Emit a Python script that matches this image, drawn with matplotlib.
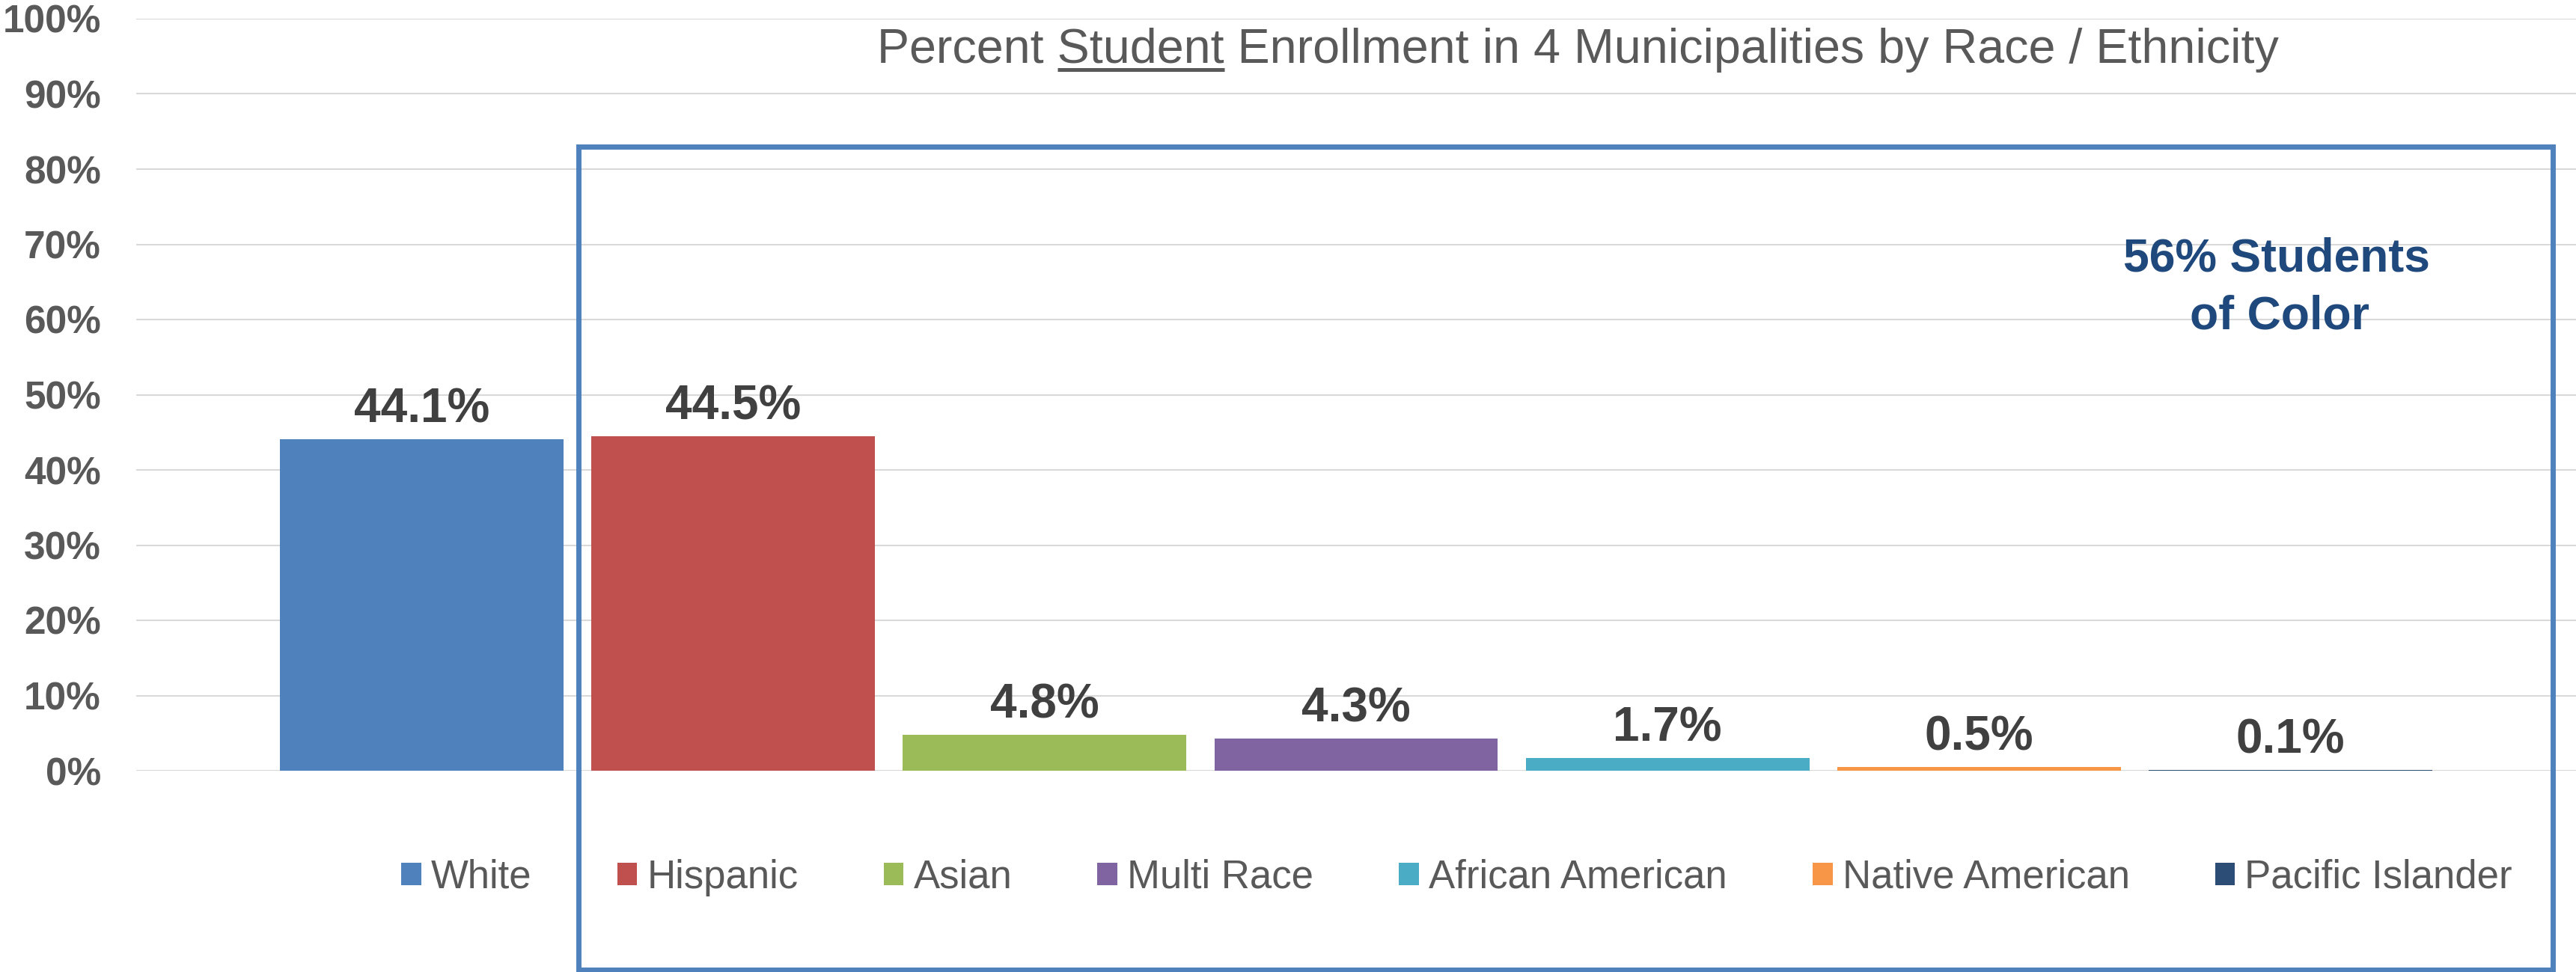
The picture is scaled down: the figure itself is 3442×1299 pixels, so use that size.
import matplotlib
matplotlib.use('Agg')
import matplotlib.pyplot as plt
import matplotlib.patches as mpatches
from matplotlib.lines import Line2D

plt.rcParams['font.family'] = ['Liberation Sans', 'DejaVu Sans']

# data
groups = ['White', 'Hispanic', 'Asian', 'Multi Race', 'African American',
          'Native American', 'Pacific Islander']
shares = [44.1, 44.5, 4.8, 4.3, 1.7, 0.5, 0.1]
colors = ['#4F81BD', '#C0504D', '#9BBB59', '#8064A2', '#4BACC6', '#F79646', '#2C4D75']
yticks = [0, 10, 20, 30, 40, 50, 60, 70, 80, 90, 100]
ytick_labels = ['0%', '10%', '20%', '30%', '40%', '50%', '60%', '70%', '80%', '90%', '100%']
title_pre = 'Percent '
title_ul = 'Student'
title_post = ' Enrollment in 4 Municipalities by Race / Ethnicity'
callout = '56% Students\nof Color'

W, H = 3442, 1299
GRAY = '#595959'
TITLE_FS = 46.5

fig = plt.figure(figsize=(W / 100, H / 100), dpi=100)
ax = fig.add_axes([182 / W, (H - 1030) / H, (W - 182) / W, (1030 - 25) / H])

for i, (g, v, c) in enumerate(zip(groups, shares, colors)):
    ax.bar(i, v, width=0.91, color=c, label=g, zorder=2)
    ax.annotate(f'{v:.1f}%', (i, v), xytext=(0, 16), textcoords='offset points',
                ha='center', va='baseline', fontsize=46, fontweight='bold',
                color='#404040')

ax.set_xlim(-0.916, 6.916)
ax.set_ylim(0, 100)
ax.set_yticks(yticks)
ax.set_yticklabels(ytick_labels, fontsize=37, fontweight='bold', color=GRAY)
ax.set_xticks([])
ax.tick_params(axis='y', length=0, pad=34)
ax.grid(axis='y', color='#D9D9D9', linewidth=1.5, zorder=0)
ax.set_axisbelow(True)
for s in ax.spines.values():
    s.set_visible(False)

ax.legend(loc='center left', bbox_to_anchor=(536 / W, 0.097),
          bbox_transform=fig.transFigure, ncol=7, frameon=False,
          fontsize=38, handlelength=0.51, handleheight=0.51,
          handletextpad=0.246, columnspacing=2.16, borderpad=0,
          borderaxespad=0, labelcolor=GRAY)

# title with the underlined word
t = fig.text(2108.5 / W, (H - 84) / H, title_pre + title_ul + title_post,
             ha='center', va='baseline', fontsize=TITLE_FS, color=GRAY)
fig.canvas.draw()
r = fig.canvas.get_renderer()
bb = t.get_window_extent(r)


def text_width(s):
    tmp = fig.text(0, 0, s, fontsize=TITLE_FS)
    w = tmp.get_window_extent(r).width
    tmp.remove()
    return w


x_end = bb.x0 + text_width(title_pre + title_ul)
x_start = x_end - text_width(title_ul)
uy = (H - 93) / H
fig.add_artist(Line2D([x_start / W, x_end / W], [uy, uy], transform=fig.transFigure,
                      lw=3.6, color=GRAY, solid_capstyle='butt'))

# box round the students of color
box = mpatches.Rectangle((773 / W, (H - 1296) / H), (3410.6 - 773) / W, (1296 - 195.5) / H,
                         transform=fig.transFigure, fill=False, edgecolor='#4F81BD',
                         linewidth=5, clip_on=False)
fig.add_artist(box)

lines = callout.split('\n')
fig.text(3042 / W, (H - 363) / H, lines[0], ha='center', va='baseline', fontsize=45,
         fontweight='bold', color='#1F497D')
fig.text(3046 / W, (H - 439) / H, lines[1], ha='center', va='baseline', fontsize=45,
         fontweight='bold', color='#1F497D')

fig.savefig('out.png', dpi=100)
